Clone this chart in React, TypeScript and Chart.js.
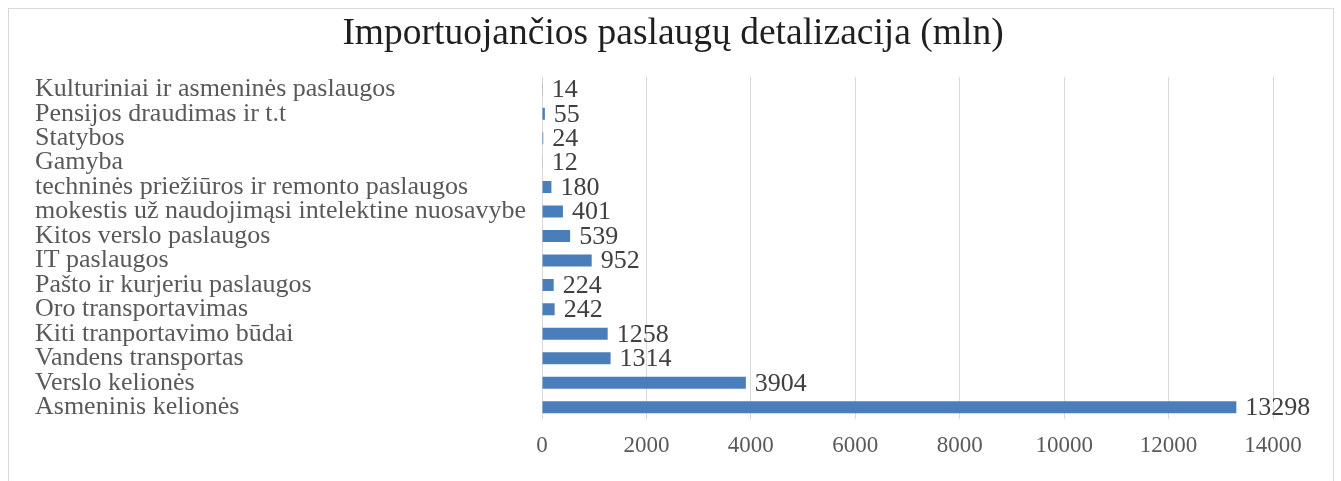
import React, { useEffect, useRef } from "react";
import { Chart, registerables } from "chart.js";

Chart.register(...registerables);

const TITLE = "Importuojančios paslaugų detalizacija (mln)";

const categories = [
  "Kulturiniai ir asmeninės paslaugos",
  "Pensijos draudimas ir t.t",
  "Statybos",
  "Gamyba",
  "techninės priežiūros ir remonto paslaugos",
  "mokestis už naudojimąsi intelektine nuosavybe",
  "Kitos verslo paslaugos",
  "IT paslaugos",
  "Pašto ir kurjeriu paslaugos",
  "Oro transportavimas",
  "Kiti tranportavimo būdai",
  "Vandens transportas",
  "Verslo kelionės",
  "Asmeninis kelionės",
];

const values = [14, 55, 24, 12, 180, 401, 539, 952, 224, 242, 1258, 1314, 3904, 13298];

const xTicks = [0, 2000, 4000, 6000, 8000, 10000, 12000, 14000];

const FONT = "'Liberation Serif', 'Times New Roman', serif";

const valueLabels = {
  id: "valueLabels",
  afterDatasetsDraw(chart: any) {
    const ctx = chart.ctx;
    const meta = chart.getDatasetMeta(0);
    ctx.save();
    ctx.font = `26px ${FONT}`;
    ctx.fillStyle = "#404040";
    ctx.textAlign = "left";
    ctx.textBaseline = "middle";
    meta.data.forEach((el: any, i: number) => {
      ctx.fillText(String(values[i]), el.x + 9, el.y + 1);
    });
    ctx.restore();
  },
};

const titlePlugin = {
  id: "customTitle",
  afterDraw(chart: any) {
    const ctx = chart.ctx;
    ctx.save();
    ctx.font = `37.5px ${FONT}`;
    ctx.fillStyle = "#1f1f1f";
    ctx.textAlign = "center";
    ctx.textBaseline = "middle";
    ctx.fillText(TITLE, 673, 34);
    ctx.restore();
  },
};

export default function App() {
  const ref = useRef<HTMLCanvasElement | null>(null);
  useEffect(() => {
    if (!ref.current) return;
    const chart = new Chart(ref.current, {
      type: "bar",
      data: {
        labels: categories,
        datasets: [
          {
            data: values,
            backgroundColor: "#4a7ebb",
            borderWidth: 0,
            barPercentage: 0.49,
            categoryPercentage: 1,
          },
        ],
      },
      options: {
        indexAxis: "y",
        responsive: false,
        animation: false,
        layout: { padding: { left: 35, right: 68, top: 77, bottom: 8 } },
        plugins: {
          legend: { display: false },
          tooltip: { enabled: false },
          title: { display: false },
        },
        scales: {
          x: {
            min: 0,
            max: 14000,
            afterBuildTicks(scale: any) {
              scale.ticks = xTicks.map((v) => ({ value: v }));
            },
            ticks: {
              color: "#595959",
              font: { family: FONT, size: 23 },
              padding: 13,
              maxRotation: 0,
              callback: (v: any) => String(v),
            },
            grid: { color: "#d9d9d9", drawTicks: false, tickLength: 0 },
            border: { display: false },
          },
          y: {
            afterFit(scale: any) {
              scale.width = 507;
            },
            ticks: {
              color: "#595959",
              font: { family: FONT, size: 26 },
              crossAlign: "far",
              autoSkip: false,
              padding: 8,
            },
            grid: { display: false, drawTicks: false },
            border: { display: false },
          },
        },
      },
      plugins: [valueLabels, titlePlugin],
    });
    return () => chart.destroy();
  }, []);

  return (
    <div
      style={{
        position: "fixed",
        left: 0,
        top: 0,
        width: 1341,
        height: 481,
        overflow: "hidden",
        background: "#ffffff",
      }}
    >
      <div
        style={{
          position: "absolute",
          left: 8,
          top: 8,
          width: 1326,
          height: 480,
          border: "1px solid #d9d9d9",
          boxSizing: "border-box",
        }}
      />
      <canvas
        ref={ref}
        width={1341}
        height={481}
        style={{ position: "absolute", left: 0, top: 0 }}
      />
    </div>
  );
}
